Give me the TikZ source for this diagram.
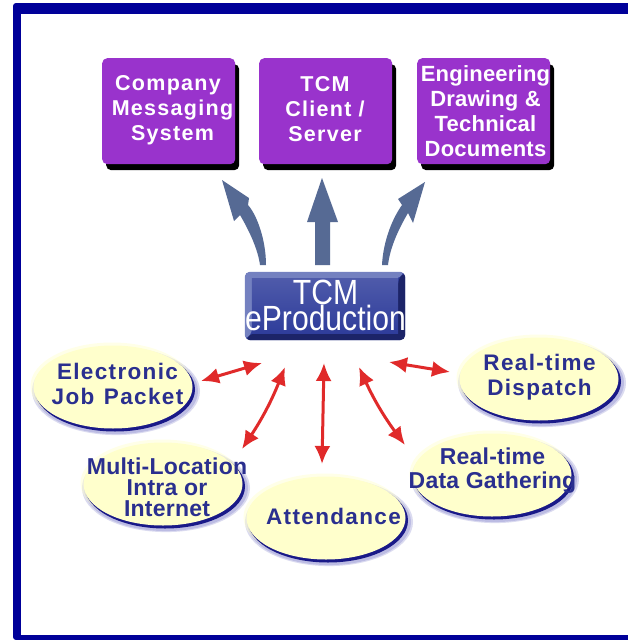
\documentclass[tikz,border=0pt]{standalone}
\usepackage{fontspec}
\setmainfont{Liberation Sans}
\newfontfamily\boxfont[LetterSpace=6,Ligatures=NoCommon]{Liberation Sans Bold}
\newfontfamily\narrowboxfont[LetterSpace=1,Ligatures=NoCommon]{Liberation Sans Bold}
\usetikzlibrary{arrows.meta,calc,shapes.geometric}
\definecolor{frameblue}{HTML}{000099}
\definecolor{boxpurple}{HTML}{9933CC}
\definecolor{cream}{HTML}{FFFFCC}
\definecolor{txtblue}{HTML}{2A2F8F}
\definecolor{arrowblue}{HTML}{566A94}
\definecolor{arrowred}{HTML}{E02A2A}
\definecolor{bevelmid}{HTML}{2F3D9B}
\definecolor{bevellight}{HTML}{7481C0}
\definecolor{beveldark}{HTML}{1C2468}
\tikzset{
  x=1pt,y=-1pt,
  purplebox/.style={fill=boxpurple,rounded corners=5pt,minimum width=133pt,minimum height=106pt,inner sep=0pt,anchor=north west},
  boxshade/.style={fill=black,rounded corners=5pt,minimum width=133pt,minimum height=106pt,inner sep=0pt,anchor=north west},
  boxlabel/.style={text=white,align=center,font=\boxfont\fontsize{21.5}{25}\selectfont,inner sep=0pt},
  oval/.style={ellipse,fill=cream,minimum width=159pt,minimum height=83pt,inner sep=0pt},
  ovalshade/.style={ellipse,fill=frameblue!80!black!90!white,minimum width=160pt,minimum height=84pt,inner sep=0pt},
  ovalglow/.style={ellipse,fill=frameblue,fill opacity=.14,minimum width=#1,minimum height=#1*.525,inner sep=0pt},
  ovalhalo/.style={ellipse,fill=cream,fill opacity=.45,minimum width=163pt,minimum height=87pt,inner sep=0pt},
  ovallabel/.style={text=txtblue,align=center,font=\boxfont\fontsize{22.5}{25}\selectfont,inner sep=0pt},
  redarrow/.style={draw=arrowred,line width=3pt,{Latex[length=18pt,width=16pt]}-{Latex[length=18pt,width=16pt]}},
  bluearrow/.style={fill=arrowblue,draw=none},
}
\begin{document}
\begin{tikzpicture}
\useasboundingbox (0,0) rectangle (628,640);
\fill[white] (0,0) rectangle (628,640);
% frame
\fill[frameblue,rounded corners=3pt] (13,3) -- (640,3) -- (640,640) -- (13,640) -- cycle;
\fill[white] (21,14) rectangle (628,635);
% purple boxes
\node[boxshade] at (106,64) (s1) {};
\node[boxshade] at (263,64) (s2) {};
\node[boxshade] at (421,64) (s3) {};
\node[purplebox] at (102,58) (b1) {};
\node[purplebox] at (259,58) (b2) {};
\node[purplebox] at (417,58) (b3) {};
\node[boxlabel] at (172.5,110) (t1) {Company\hspace*{9pt}\\Messaging\\System};
\node[boxlabel] at (325,109) (t2) {TCM\\Client /\\Server};
\node[boxlabel,font=\narrowboxfont\fontsize{22}{25}\selectfont] at (485.5,111) (t3) {Engineering\\Drawing \&\\Technical\\Documents};
% central box
\node[fill=bevelmid,minimum width=160pt,minimum height=68pt,inner sep=0pt,rounded corners=5pt] at (325,306) (hub) {};
\fill[bevellight,rounded corners=5pt] (hub.north west) -- (hub.north east) -- ++(-7,7) -- ++(-146,0) -- ++(0,54) -- (hub.south west) -- cycle;
\fill[beveldark,rounded corners=5pt] (hub.south east) -- (hub.north east) -- ++(-7,7) -- ++(0,54) -- ++(-146,0) -- (hub.south west) -- cycle;
\shade[top color=bevelmid!85!white,bottom color=bevelmid] ($(hub.north west)+(7,7)$) rectangle ($(hub.south east)+(-7,-7)$);
\node[text=white,align=center,inner sep=0pt,font=\fontsize{35}{26}\selectfont] at (325.5,305) (hubtext)
  {\scalebox{.86}[1]{TCM}\\\scalebox{.86}[1]{eProduction}};
% blue arrows
\coordinate (aL) at (263,265); \coordinate (aLtip) at (222,180);
\coordinate (aM) at (322.5,265); \coordinate (aMtip) at (322,178);
\coordinate (aR) at (385,265); \coordinate (aRtip) at (425,182);
\fill[bluearrow] (266,265) .. controls (266,240) and (257,215) .. (248,205)
  -- (249,198) -- (aLtip) -- (234,221) -- (240,215) .. controls (250,232) and (258,250) .. (260,265) -- cycle;
\fill[bluearrow] (330,265) -- (330,222) -- (338,222) -- (aMtip) -- (307,222) -- (315,222) -- (315,265) -- cycle;
\fill[bluearrow] (382,265) .. controls (383,245) and (390,222) .. (402,205)
  -- (398,199) -- (aRtip) -- (413,223) -- (408,213) .. controls (398,230) and (390,248) .. (388,265) -- cycle;
% ovals
\foreach \n/\x/\y in {e/113/387,d/539/379,m/163/484,a/326/518,g/492/475}{
  \node[ovalglow=168pt] at (\x+3,\y+4) (\n glowa) {};
  \node[ovalglow=164pt] at (\x+3,\y+4) (\n glowb) {};
  \node[ovalhalo] at (\x-1,\y-1) (\n halo) {};
  \node[ovalshade] at (\x+2,\y+2.5) (\n shade) {};
  \node[oval] at (\x,\y) (\n oval) {};
}
\node[ovallabel] at (117.5,384) (et) {Electronic\\Job\hspace{2pt} Packet};
\node[ovallabel] at (539.5,377) (dt) {Real-time\\Dispatch};
\node[ovallabel,font=\narrowboxfont\fontsize{23}{21}\selectfont] at (167,487) (mt) {Multi-Location\\Intra or\\Internet};
\node[ovallabel] at (333.5,516) (at) {Attendance};
\node[ovallabel,font=\narrowboxfont\fontsize{23}{24}\selectfont] at (492.5,471) (gt) {Real-time\\Data Gathering};
% red arrows
\coordinate (re1) at (201,381); \coordinate (re2) at (262,363);
\coordinate (rm1) at (242,449); \coordinate (rm2) at (285,367);
\coordinate (ra1) at (322,464); \coordinate (ra2) at (324,363);
\coordinate (rg1) at (405,445); \coordinate (rg2) at (359,367);
\coordinate (rd1) at (450,372); \coordinate (rd2) at (389,362);
\draw[redarrow] (re1) -- (re2);
\draw[redarrow] (rm1) to[bend right=6] (rm2);
\draw[redarrow] (ra1) -- (ra2);
\draw[redarrow] (rg1) to[bend left=6] (rg2);
\draw[redarrow] (rd1) -- (rd2);
\end{tikzpicture}
\end{document}
